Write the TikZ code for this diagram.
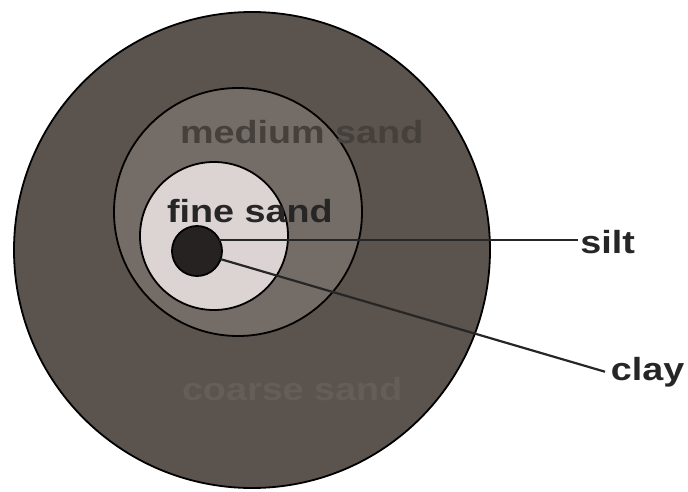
\documentclass[tikz,border=0pt]{standalone}
\usepackage{fontspec}
\setmainfont{Liberation Sans}
\definecolor{coarsecol}{HTML}{5B534E}
\definecolor{mediumcol}{HTML}{746C66}
\definecolor{finecol}{HTML}{DCD4D2}
\definecolor{siltcol}{HTML}{262222}
\definecolor{medtext}{HTML}{45403C}
\definecolor{coarsetext}{HTML}{655D58}
\tikzset{
  ring/.style={circle, draw=black, line width=1.8pt, inner sep=0pt, outer sep=0pt},
  lbl/.style={font=\fontsize{32}{36}\selectfont\bfseries, xscale=1.18, inner sep=0pt, outer sep=0pt},
  leader/.style={line width=2.2pt, draw=black!85}
}
\begin{document}
\begin{tikzpicture}[x=1pt,y=-1pt]
\useasboundingbox (0,0) rectangle (688,492);
\node[ring, fill=coarsecol, minimum size=476pt] (coarse) at (252,250) {};
\node[ring, fill=mediumcol, minimum size=248pt] (medium) at (238,212) {};
\node[ring, fill=finecol, minimum size=148pt] (fine) at (214,236) {};
\node[ring, fill=siltcol, minimum size=50pt] (siltdot) at (197,251) {};
\node[lbl, text=medtext, anchor=base west] (medlabel) at (180,143) {medium sand};
\node[lbl, text=coarsetext, anchor=base west] (coarselabel) at (182,400) {coarse sand};
\node[lbl, text=black!85, anchor=base west] (finelabel) at (167,222) {fine sand};
\node[lbl, text=black!85, anchor=base west, outer sep=2pt] (siltlabel) at (578,253) {silt};
\node[lbl, text=black!85, anchor=base west, outer sep=5pt] (claylabel) at (605,380) {clay};
\draw[leader] (siltdot.26) -- (siltdot.26 -| siltlabel.west);
\draw[leader] (siltdot.-19) -- (claylabel.west);
\end{tikzpicture}
\end{document}
